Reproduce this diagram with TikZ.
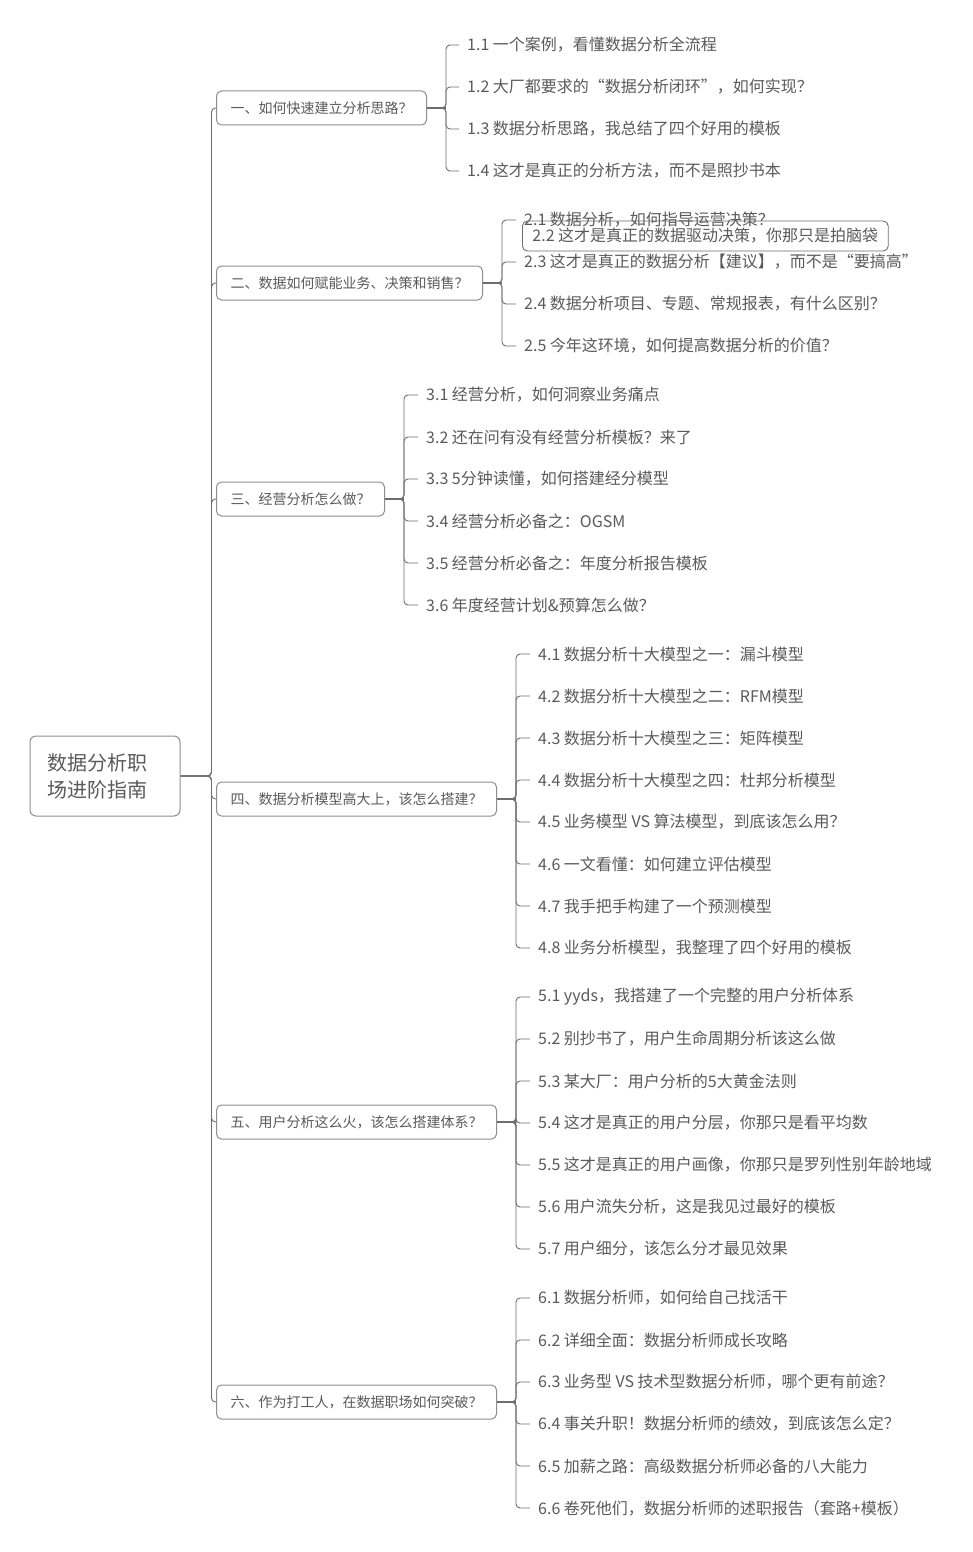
\documentclass[tikz,border=0pt]{standalone}
\usepackage{fontspec}
\setmainfont{Noto Sans CJK SC}
\definecolor{inkgray}{HTML}{5A5A5A}
\definecolor{linegray}{HTML}{6E6E6E}
\definecolor{boxgray}{HTML}{8E8E8E}
\tikzset{
  rootbox/.style={draw=boxgray, line width=1pt, rounded corners=6pt, text=inkgray,
    font=\fontsize{20}{27}\selectfont, align=left, text width=116pt,
    inner xsep=17pt, minimum height=80pt},
  topic/.style={draw=boxgray, line width=1pt, rounded corners=5pt, text=inkgray,
    font=\fontsize{14}{16}\selectfont, minimum height=34pt, inner xsep=14pt, anchor=west},
  leaf/.style={text=inkgray, font=\fontsize{16}{18}\selectfont, anchor=west,
    inner xsep=8pt, inner ysep=2pt},
  conn/.style={draw=linegray, line width=0.9pt, rounded corners=4pt},
  stem/.style={draw=linegray, line width=1.6pt},
}

\begin{document}
\begin{tikzpicture}[x=1pt,y=-1pt]
  \useasboundingbox[fill=white] (0,0) rectangle (973,1552);

  % central topic
  \node[rootbox] (root) at (105,776) {数据分析职\\场进阶指南};

  % main branches, hung on the trunk at x=211
  \foreach \n/\yb/\Lb in {1/108/{一、如何快速建立分析思路？},
                          2/283/{二、数据如何赋能业务、决策和销售？},
                          3/499/{三、经营分析怎么做？},
                          4/799/{四、数据分析模型高大上，该怎么搭建？},
                          5/1122/{五、用户分析这么火，该怎么搭建体系？},
                          6/1402/{六、作为打工人，在数据职场如何突破？}}{
    \node[topic] (b\n) at (216,\yb) {\Lb};
    \draw[conn] (root.east) -- ++(31,0) |- (b\n.west);
    \draw[stem] (b\n.east) -- ++(19,0);
  }

  % group 1
  \foreach \i/\yl/\Lb in {1/45/{1.1 一个案例，看懂数据分析全流程},
                          2/87/{1.2 大厂都要求的“数据分析闭环”，如何实现？},
                          3/129/{1.3 数据分析思路，我总结了四个好用的模板},
                          4/171/{1.4 这才是真正的分析方法，而不是照抄书本}}{
    \node[leaf] (l1-\i) at (459,\yl) {\Lb};
    \draw[conn] (b1.east) -- ++(19,0) |- (l1-\i.west);
  }

  % group 2 (2.2 sits loose in its own frame)
  \foreach \i/\yl/\Lb in {1/220/{2.1 数据分析，如何指导运营决策？},
                          3/262/{2.3 这才是真正的数据分析【建议】，而不是“要搞高”},
                          4/304/{2.4 数据分析项目、专题、常规报表，有什么区别？},
                          5/346/{2.5 今年这环境，如何提高数据分析的价值？}}{
    \node[leaf] (l2-\i) at (516,\yl) {\Lb};
    \draw[conn] (b2.east) -- ++(19,0) |- (l2-\i.west);
  }
  \node[leaf, draw=linegray, line width=0.9pt, rounded corners=5pt, minimum height=30pt,
        inner xsep=10pt] (l2-2) at (522,236) {2.2 这才是真正的数据驱动决策，你那只是拍脑袋};

  % group 3
  \foreach \i/\yl/\Lb in {1/395/{3.1 经营分析，如何洞察业务痛点},
                          2/437/{3.2 还在问有没有经营分析模板？来了},
                          3/479/{3.3 5分钟读懂，如何搭建经分模型},
                          4/521/{3.4 经营分析必备之：OGSM},
                          5/563/{3.5 经营分析必备之：年度分析报告模板},
                          6/605/{3.6 年度经营计划\&预算怎么做？}}{
    \node[leaf] (l3-\i) at (418,\yl) {\Lb};
    \draw[conn] (b3.east) -- ++(19,0) |- (l3-\i.west);
  }

  % group 4
  \foreach \i/\yl/\Lb in {1/654/{4.1 数据分析十大模型之一：漏斗模型},
                          2/696/{4.2 数据分析十大模型之二：RFM模型},
                          3/738/{4.3 数据分析十大模型之三：矩阵模型},
                          4/780/{4.4 数据分析十大模型之四：杜邦分析模型},
                          5/822/{4.5 业务模型 VS 算法模型，到底该怎么用？},
                          6/864/{4.6 一文看懂：如何建立评估模型},
                          7/906/{4.7 我手把手构建了一个预测模型},
                          8/948/{4.8 业务分析模型，我整理了四个好用的模板}}{
    \node[leaf] (l4-\i) at (530,\yl) {\Lb};
    \draw[conn] (b4.east) -- ++(19,0) |- (l4-\i.west);
  }

  % group 5
  \foreach \i/\yl/\Lb in {1/997/{5.1 yyds，我搭建了一个完整的用户分析体系},
                          2/1039/{5.2 别抄书了，用户生命周期分析该这么做},
                          3/1081/{5.3 某大厂：用户分析的5大黄金法则},
                          4/1123/{5.4 这才是真正的用户分层，你那只是看平均数},
                          5/1165/{5.5 这才是真正的用户画像，你那只是罗列性别年龄地域},
                          6/1207/{5.6 用户流失分析，这是我见过最好的模板},
                          7/1249/{5.7 用户细分，该怎么分才最见效果}}{
    \node[leaf] (l5-\i) at (530,\yl) {\Lb};
    \draw[conn] (b5.east) -- ++(19,0) |- (l5-\i.west);
  }

  % group 6
  \foreach \i/\yl/\Lb in {1/1298/{6.1 数据分析师，如何给自己找活干},
                          2/1340/{6.2 详细全面：数据分析师成长攻略},
                          3/1382/{6.3 业务型 VS 技术型数据分析师，哪个更有前途？},
                          4/1424/{6.4 事关升职！数据分析师的绩效，到底该怎么定？},
                          5/1466/{6.5 加薪之路：高级数据分析师必备的八大能力},
                          6/1508/{6.6 卷死他们，数据分析师的述职报告（套路+模板）}}{
    \node[leaf] (l6-\i) at (530,\yl) {\Lb};
    \draw[conn] (b6.east) -- ++(19,0) |- (l6-\i.west);
  }

\end{tikzpicture}
\end{document}
